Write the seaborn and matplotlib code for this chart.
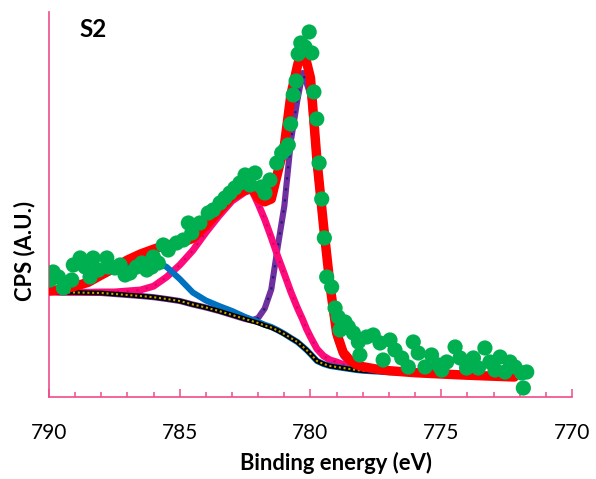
import matplotlib
matplotlib.use("Agg")
import matplotlib.pyplot as plt
from matplotlib.ticker import MultipleLocator
import numpy as np
import pandas as pd
import seaborn as sns

# ---- fitted-curve grid (binding energy, eV) ----
E_fit = [790.0, 789.5, 789.0, 788.5, 788.0, 787.5, 787.0, 786.5, 786.0, 785.5,
         785.0, 784.5, 784.0, 783.5, 783.0, 782.5, 782.25, 782.0, 781.75, 781.5,
         781.25, 781.0, 780.75, 780.5, 780.3, 780.15, 780.0, 779.75, 779.5, 779.25,
         779.0, 778.75, 778.5, 778.25, 778.0, 777.5, 777.0, 776.0, 775.0, 774.0,
         773.0, 772.2]

# Shirley background (a.u.)
background = [105, 104.7, 104.5, 104.2, 104, 103, 102, 101, 99.8, 98,
              96, 92.5, 89.5, 86, 82, 78, 76, 74, 71.5, 69.5,
              66.5, 63, 59, 55, 50.5, 47, 43, 36, 33, 31,
              30, 29, 28, 27, 26.3, 25.5, 24.8, 23.8, 22.8, 21.8,
              20.8, 20]

# satellite component (above background)
satellite = [1, 3, 6, 10, 17, 24, 31, 36, 37, 32,
             22, 12, 7, 5, 4, 2, 1.5, 1, 0.7, 0.5,
             0.3, 0.2, 0, 0, 0, 0, 0, 0, 0, 0,
             0, 0, 0, 0, 0, 0, 0, 0, 0, 0,
             0, 0]

# component at ~782.3 eV (above background)
comp_782 = [0, 0, 0.2, 0.5, 1, 2, 4, 6, 11, 22,
            36, 54, 75, 95, 114, 127, 131, 119, 106, 90,
            74, 60, 46, 34, 27, 21, 17, 12, 8, 6,
            5, 3.5, 3, 2.5, 2, 1.5, 1, 0.5, 0.2, 0,
            0, 0]

# component at ~780.3 eV (above background)
comp_780 = [0, 0, 0, 0, 0, 0, 0, 0, 0, 0,
            0, 0, 0, 0, 0, 0, 0.5, 5, 17, 38,
            84, 128, 197, 242, 273.5, 267, 259, 188, 130, 74,
            29, 12, 6, 3, 2, 1, 0.5, 0, 0, 0,
            0, 0]

# ---- measured data ----
E_data = [789.96, 789.84, 789.64, 789.45, 789.13, 789.07, 788.81, 788.62, 788.43, 788.31,
          788.11, 787.79, 787.73, 787.48, 787.28, 787.09, 786.90, 786.65, 786.45, 786.26,
          786.07, 786.01, 785.82, 785.63, 785.44, 785.12, 784.86, 784.67, 784.54, 784.23,
          783.91, 783.72, 783.46, 783.27, 783.08, 782.89, 782.70, 782.50, 782.31, 782.12,
          781.87, 781.74, 781.55, 781.29, 781.10, 780.98, 780.85, 780.76, 780.66, 780.55,
          780.47, 780.37, 780.21, 780.05, 779.95, 779.87, 779.76, 779.67, 779.57, 779.47,
          779.38, 779.19, 779.06, 778.94, 778.87, 778.68, 778.55, 778.36, 778.17, 778.11,
          777.85, 777.60, 777.34, 777.22, 776.96, 776.77, 776.51, 776.26, 776.07, 775.88,
          775.62, 775.37, 775.11, 774.98, 774.79, 774.47, 774.28, 774.03, 773.77, 773.58,
          773.33, 773.14, 772.94, 772.75, 772.56, 772.37, 772.18, 771.92, 771.86, 771.73]
I_data = [117, 125, 120, 109, 117, 132, 139, 130, 120, 139,
          127, 139, 130, 129, 132, 122, 124, 130, 134, 127,
          130, 140, 134, 152, 147, 154, 157, 174, 164, 174,
          184, 187, 194, 199, 204, 209, 214, 222, 212, 224,
          210, 204, 217, 234, 244, 247, 252, 273, 302, 316,
          343, 354, 350, 365, 344, 305, 278, 234, 198, 159,
          120, 110, 89, 80, 67, 75, 70, 64, 55, 42,
          60, 62, 54, 37, 57, 47, 39, 30, 55, 44,
          30, 42, 32, 27, 35, 50, 39, 29, 39, 29,
          49, 35, 27, 40, 25, 35, 30, 24, 9, 25]

x_ticks = [790, 785, 780, 775, 770]

# ---- styling ----
sns.set_theme(style="white")
plt.rcParams["font.family"] = ["Lato", "DejaVu Sans"]

PINK_AXIS = "#EE4C8C"
GREEN = "#00B050"
RED = "#FF0000"
MAGENTA = "#FF0A7A"
PURPLE = "#7030A0"
BLUE = "#0070C0"
GOLD = "#C9A200"

bg = np.array(background)
fit = pd.DataFrame({
    "E": E_fit,
    "bg": bg,
    "sat": bg + np.array(satellite),
    "p782": bg + np.array(comp_782),
    "p780": bg + np.array(comp_780),
})
fit["total"] = bg + np.array(satellite) + np.array(comp_782) + np.array(comp_780)
data = pd.DataFrame({"E": E_data, "I": I_data})

fig = plt.figure(figsize=(5.96, 4.79), dpi=100)
ax = fig.add_axes([0.0822, 0.1712, 0.8775, 0.8038])

common = dict(x="E", data=fit, ax=ax, sort=False, estimator=None, legend=False)
sns.lineplot(y="p780", color=PURPLE, lw=4.4, zorder=1, **common)
sns.lineplot(y="p780", color="#1E1E70", lw=1.6, linestyle=(0, (1, 4)), zorder=1.1, **common)
sns.lineplot(y="p782", color=MAGENTA, lw=5.0, zorder=2, **common)
sns.lineplot(y="p782", color="#D0005E", lw=1.4, linestyle=(0, (1, 4)), zorder=2.1, **common)
sns.lineplot(y="sat", color=BLUE, lw=4.4, zorder=3, **common)
sns.lineplot(y="bg", color="black", lw=3.4, zorder=4, **common)
sns.lineplot(y="bg", color=GOLD, lw=1.5, linestyle=(0, (1, 1.3)), zorder=4.1, **common)
sns.lineplot(y="total", color=RED, lw=6.8, zorder=5, **common)
sns.scatterplot(data=data, x="E", y="I", ax=ax, s=120, color=GREEN,
                edgecolor="none", linewidth=0, zorder=6, legend=False)

ax.set_xlim(790, 770)
ax.set_ylim(0, 385)
ax.set_xticks(x_ticks)
ax.set_xticklabels([str(t) for t in x_ticks])
ax.xaxis.set_minor_locator(MultipleLocator(1))
ax.set_yticks([])

for side in ("top", "right"):
    ax.spines[side].set_visible(False)
for side in ("left", "bottom"):
    ax.spines[side].set_color(PINK_AXIS)
    ax.spines[side].set_linewidth(1.2)

ax.tick_params(axis="x", which="major", direction="in", length=6, width=1.1,
               color=PINK_AXIS, pad=19, labelsize=15, labelcolor="black", bottom=True)
ax.tick_params(axis="x", which="minor", direction="in", length=3.6, width=1.1,
               color=PINK_AXIS, bottom=True)

ax.set_xlabel("Binding energy (eV)", fontsize=15.8, fontweight="bold", color="black")
ax.xaxis.set_label_coords(0.548, -0.171)
ax.xaxis.label.set_va("center")
ax.set_ylabel("CPS (A.U.)", fontsize=15.8, fontweight="bold", color="black")
ax.yaxis.set_label_coords(-0.046, 0.38)
ax.yaxis.label.set_va("center")

ax.text(0.059, 0.9545, "S2", transform=ax.transAxes, fontsize=17.5,
        fontweight="bold", va="center", ha="left", color="black")

fig.savefig("out.png", dpi=100)
